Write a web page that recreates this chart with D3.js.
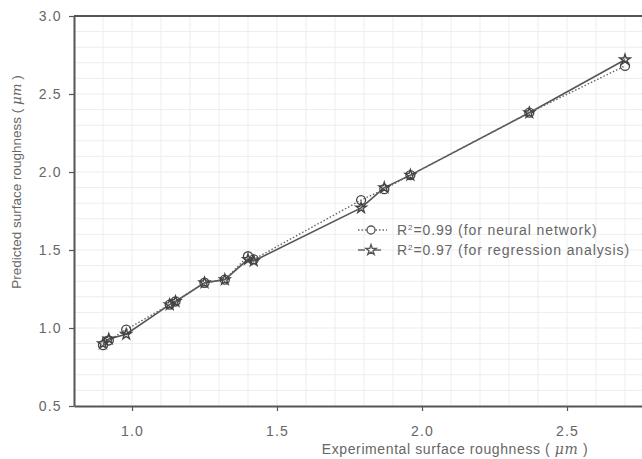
<!DOCTYPE html>
<html>
<head>
<meta charset="utf-8">
<script src="https://cdn.jsdelivr.net/npm/d3@7"></script>
<style>
  html, body { margin: 0; padding: 0; background: #fff; }
  svg { display: block; font-family: "Liberation Sans", Arial, sans-serif; }
</style>
</head>
<body>
<div id="chart"></div>
<script>
  // values
  const experimental = [0.90, 0.92, 0.98, 1.13, 1.15, 1.25, 1.32, 1.40, 1.42, 1.79, 1.87, 1.96, 2.37, 2.70];
  const neuralNetwork = [0.89, 0.92, 0.99, 1.15, 1.17, 1.29, 1.31, 1.46, 1.44, 1.82, 1.89, 1.98, 2.38, 2.68];
  const regression = [0.90, 0.93, 0.96, 1.15, 1.17, 1.29, 1.31, 1.44, 1.43, 1.77, 1.90, 1.98, 2.38, 2.72];
  const xTicks = [1.0, 1.5, 2.0, 2.5];
  const yTicks = [0.5, 1.0, 1.5, 2.0, 2.5, 3.0];
  const legendLabels = ['=0.99 (for neural network)', '=0.97 (for regression analysis)'];

  const width = 642, height = 459;
  const margin = { left: 74, top: 16, bottom: 53 };
  const textColor = '#666';

  const svg = d3.select('#chart').append('svg')
    .attr('width', width)
    .attr('height', height);

  const x = d3.scaleLinear().domain([0.8, 2.8]).range([margin.left, margin.left + 580]);
  const y = d3.scaleLinear().domain([0.5, 3.0]).range([height - margin.bottom, margin.top]);

  // faint grid
  const grid = svg.append('g').attr('stroke', '#ededed').attr('stroke-width', 1);
  grid.selectAll('line.gx')
    .data(d3.range(0.9, 2.8, 0.1))
    .join('line')
    .attr('x1', d => x(d)).attr('x2', d => x(d))
    .attr('y1', y(3.0)).attr('y2', y(0.5));
  grid.selectAll('line.gy')
    .data(d3.range(0.6, 3.0, 0.1))
    .join('line')
    .attr('x1', x(0.8)).attr('x2', width)
    .attr('y1', d => y(d)).attr('y2', d => y(d));

  // axes
  const axisColor = '#555';
  const gx = svg.append('g')
    .attr('transform', `translate(0,${y(0.5)})`)
    .call(d3.axisBottom(x).tickValues(xTicks).tickFormat(d3.format('.1f')).tickSize(5).tickSizeOuter(0));
  const gy = svg.append('g')
    .attr('transform', `translate(${x(0.8)},0)`)
    .call(d3.axisLeft(y).tickValues(yTicks).tickFormat(d3.format('.1f')).tickSize(5).tickSizeOuter(0));
  [gx, gy].forEach(g => {
    g.select('.domain').attr('stroke', axisColor).attr('stroke-width', 2);
    g.selectAll('.tick line').attr('stroke', axisColor).attr('stroke-width', 1.2);
    g.selectAll('.tick text')
      .attr('fill', textColor)
      .attr('font-size', 14)
      .attr('letter-spacing', 1.2);
  });
  gx.selectAll('.tick text').attr('dy', '1.55em');
  gy.selectAll('.tick text').attr('dx', '-0.3em');

  // top border
  svg.append('line')
    .attr('x1', x(0.8)).attr('x2', width)
    .attr('y1', y(3.0)).attr('y2', y(3.0))
    .attr('stroke', axisColor).attr('stroke-width', 2);

  // axis titles
  const xTitle = svg.append('text')
    .attr('x', 455).attr('y', 454)
    .attr('text-anchor', 'middle')
    .attr('font-size', 14).attr('letter-spacing', 0.6)
    .attr('fill', textColor);
  xTitle.append('tspan').text('Experimental surface roughness ( ');
  xTitle.append('tspan').attr('font-style', 'italic').attr('font-family', 'DejaVu Serif').text('μm');
  xTitle.append('tspan').text(' )');

  const yTitle = svg.append('text')
    .attr('transform', 'translate(21,182) rotate(-90)')
    .attr('text-anchor', 'middle')
    .attr('font-size', 13.5)
    .attr('fill', textColor);
  yTitle.append('tspan').text('Predicted surface roughness ( ');
  yTitle.append('tspan').attr('font-style', 'italic').attr('font-family', 'DejaVu Serif').text('μm');
  yTitle.append('tspan').text(' )');

  // series
  const nnData = experimental.map((e, i) => ({ x: e, y: neuralNetwork[i] }));
  const regData = experimental.map((e, i) => ({ x: e, y: regression[i] }));
  const line = d3.line().x(d => x(d.x)).y(d => y(d.y));

  svg.append('path')
    .datum(regData)
    .attr('d', line)
    .attr('fill', 'none')
    .attr('stroke', '#555')
    .attr('stroke-width', 1.6);
  svg.append('path')
    .datum(nnData)
    .attr('d', line)
    .attr('fill', 'none')
    .attr('stroke', '#666')
    .attr('stroke-width', 1.4)
    .attr('stroke-dasharray', '1.5,2');

  const star = d3.symbol().type(d3.symbolStar).size(34);

  svg.append('g')
    .selectAll('path')
    .data(regData)
    .join('path')
    .attr('d', star)
    .attr('transform', d => `translate(${x(d.x)},${y(d.y)})`)
    .attr('fill', 'none')
    .attr('stroke', '#444')
    .attr('stroke-width', 1.4);

  svg.append('g')
    .selectAll('circle')
    .data(nnData)
    .join('circle')
    .attr('cx', d => x(d.x))
    .attr('cy', d => y(d.y))
    .attr('r', 4.5)
    .attr('fill', 'none')
    .attr('stroke', '#444')
    .attr('stroke-width', 1.3);

  // legend
  const legend = svg.append('g').attr('transform', 'translate(358,230)');
  const rows = legend.selectAll('g')
    .data(legendLabels)
    .join('g')
    .attr('transform', (d, i) => `translate(0,${i * 20})`);
  rows.append('line')
    .attr('x1', 0).attr('x2', 29)
    .attr('stroke', '#666')
    .attr('stroke-width', 1.4)
    .attr('stroke-dasharray', (d, i) => i === 0 ? '1.5,2' : '7,9');
  rows.filter((d, i) => i === 0).append('circle')
    .attr('cx', 13).attr('r', 4)
    .attr('fill', '#fff').attr('stroke', '#555').attr('stroke-width', 1.3);
  rows.filter((d, i) => i === 1).append('path')
    .attr('d', star)
    .attr('transform', 'translate(13,0)')
    .attr('fill', '#fff').attr('stroke', '#555').attr('stroke-width', 1.3);
  const labels = rows.append('text')
    .attr('x', 39).attr('dy', '0.35em')
    .attr('font-size', 14).attr('letter-spacing', 0.9)
    .attr('fill', textColor);
  labels.append('tspan').text('R');
  labels.append('tspan').attr('font-size', 8).attr('dy', '-0.6em').text('2');
  labels.append('tspan').attr('dy', '0.35em').text(d => d);
</script>
</body>
</html>
